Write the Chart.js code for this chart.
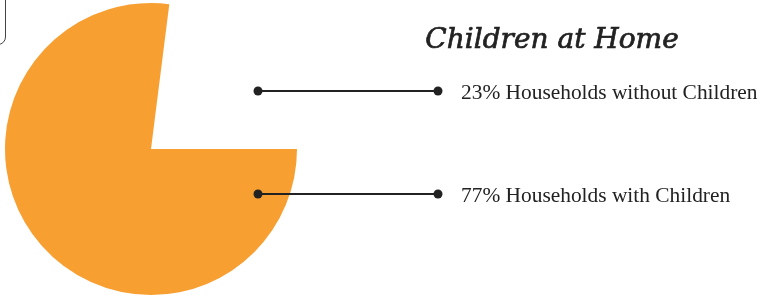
<!DOCTYPE html>
<html>
<head>
<meta charset="utf-8">
<script src="https://cdn.jsdelivr.net/npm/chart.js@4"></script>
<style>
  html, body { margin: 0; padding: 0; background: #fff; overflow: hidden; }
  #wrap { position: relative; width: 764px; height: 297px; }
  #box { position: absolute; left: -100px; top: -10px; width: 104px; height: 53px;
         border: 1px solid #444; border-radius: 8px; }
</style>
</head>
<body>
<div id="wrap">
  <canvas id="pie-chart" width="764" height="297"></canvas>
  <div id="box"></div>
</div>
<script>
const chartTitle = "Children at Home";
const categories = ["Households with Children", "Households without Children"];
const shares = [77, 23];
const sliceColors = ["#F89F32", "rgba(0,0,0,0)"];

// label rows drawn to the right of the pie: top row is the 23% slice
const labelRows = [
  { idx: 1, y: 91 },
  { idx: 0, y: 194 }
];

const calloutPlugin = {
  id: "callouts",
  afterDraw(chart) {
    const ctx = chart.ctx;
    ctx.save();
    ctx.fillStyle = "#222";
    ctx.strokeStyle = "#222";
    ctx.font = "italic 28px 'DejaVu Serif'";
    ctx.textAlign = "center";
    ctx.textBaseline = "alphabetic";
    ctx.fillText(chartTitle, 552, 48);
    // a bit heavier, like the semibold title
    ctx.lineWidth = 0.7;
    ctx.strokeText(chartTitle, 552, 48);

    labelRows.forEach(function (row) {
      ctx.lineWidth = 2;
      ctx.beginPath();
      ctx.moveTo(258, row.y);
      ctx.lineTo(438, row.y);
      ctx.stroke();
      [258, 438].forEach(function (x) {
        ctx.beginPath();
        ctx.arc(x, row.y, 4.5, 0, Math.PI * 2);
        ctx.fill();
      });
      ctx.font = "21.4px 'Liberation Serif'";
      ctx.textAlign = "left";
      ctx.fillText(shares[row.idx] + "% " + categories[row.idx], 461, row.y + 7.5);
    });
    ctx.restore();
  }
};

new Chart(document.getElementById("pie-chart"), {
  type: "pie",
  data: {
    labels: categories,
    datasets: [{
      data: shares,
      backgroundColor: sliceColors,
      borderWidth: 0
    }]
  },
  options: {
    responsive: false,
    animation: false,
    rotation: 90,
    layout: { padding: { left: 5, right: 467, top: 3, bottom: 2 } },
    plugins: {
      legend: { display: false },
      tooltip: { enabled: false },
      title: { display: false }
    }
  },
  plugins: [calloutPlugin]
});
</script>
</body>
</html>
